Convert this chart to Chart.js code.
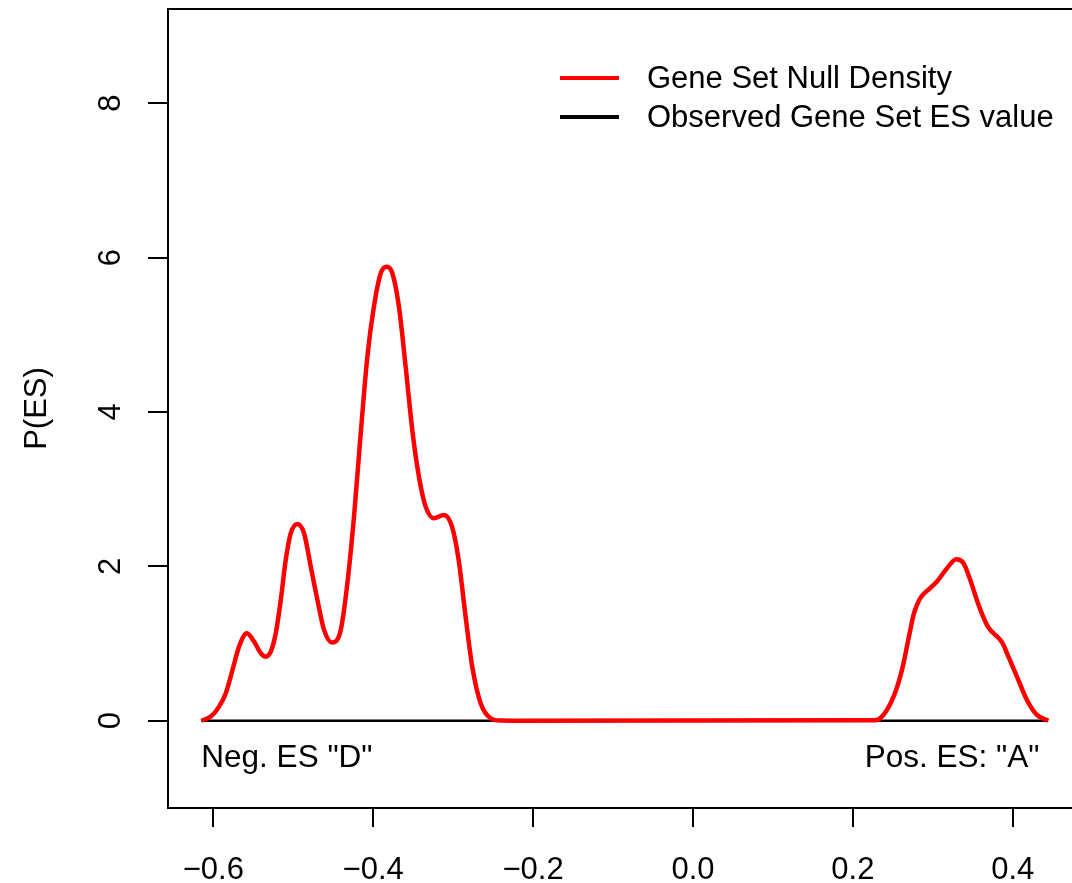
<!DOCTYPE html>
<html>
<head>
<meta charset="utf-8">
<script src="https://cdn.jsdelivr.net/npm/chart.js@4"></script>
<style>
  html, body { margin: 0; padding: 0; background: #fff; overflow: hidden; }
  #wrap { position: relative; width: 1090px; height: 883px; }
  .legend { position: absolute; left: 560px; top: 58px; font-family: "Liberation Sans", Arial, sans-serif; font-size: 31px; color: #000; }
  .legend .row { display: flex; align-items: center; height: 39px; }
  .legend .swatch { width: 59px; height: 4px; margin-right: 28px; }
</style>
</head>
<body>
<div id="wrap">
  <canvas id="esPlot"></canvas>
  <div class="legend">
    <div class="row"><div class="swatch" style="background:#ff0000"></div><span>Gene Set Null Density</span></div>
    <div class="row"><div class="swatch" style="background:#000000"></div><span>Observed Gene Set ES value</span></div>
  </div>
</div>
<script>
// density of the null ES distribution
const esGrid = [
  -0.615, -0.6031, -0.5928, -0.5844, -0.576, -0.5678, -0.5581, -0.549, -0.5406, -0.5344,
  -0.5281, -0.5219, -0.5156, -0.5094, -0.5031, -0.4948, -0.4865, -0.4781, -0.4698, -0.4615,
  -0.4514, -0.4406, -0.4323, -0.424, -0.4156, -0.4073, -0.3991, -0.3906, -0.3831, -0.376,
  -0.3678, -0.3594, -0.3511, -0.3428, -0.3344, -0.324, -0.3115, -0.3014, -0.2931, -0.2844,
  -0.2761, -0.2656, -0.2531, -0.2406, -0.2244,
  0.2256, 0.2344, 0.251, 0.2615, 0.2719, 0.276, 0.2802, 0.2844, 0.2885, 0.2928,
  0.3053, 0.3178, 0.3294, 0.3385, 0.3469, 0.3573, 0.3678, 0.3719, 0.376, 0.3844,
  0.3885, 0.3928, 0.4053, 0.4178, 0.4303, 0.4444
];
const nullDensity = [
  0, 0.053, 0.183, 0.356, 0.658, 0.96, 1.133, 1.025, 0.874, 0.83,
  0.895, 1.133, 1.565, 2.083, 2.429, 2.549, 2.429, 1.996, 1.565, 1.176,
  1.012, 1.176, 1.781, 2.644, 3.724, 4.716, 5.364, 5.797, 5.882, 5.797,
  5.364, 4.587, 3.767, 3.162, 2.773, 2.623, 2.666, 2.514, 2.083, 1.348,
  0.701, 0.227, 0.032, 0.001, 0,
  0.005, 0.032, 0.312, 0.658, 1.176, 1.37, 1.5, 1.587, 1.642, 1.681,
  1.802, 1.975, 2.092, 2.04, 1.824, 1.5, 1.241, 1.176, 1.133, 1.047,
  0.982, 0.874, 0.571, 0.269, 0.075, 0
];
const baselineX = [-0.615, 0.4444];
const baselineY = [0, 0];

const xTicks = [-0.6, -0.4, -0.2, 0.0, 0.2, 0.4];
const xTickLabels = ["\u22120.6", "\u22120.4", "\u22120.2", "0.0", "0.2", "0.4"];
const yTicks = [0, 2, 4, 6, 8];
const yTickLabels = ["0", "2", "4", "6", "8"];

const sideNotes = [
  { text: 'Neg. ES "D"', x: -0.615, y: -0.6, align: "left" },
  { text: 'Pos. ES: "A"', x: 0.4335, y: -0.6, align: "right" }
];

const FONT = "'Liberation Sans', Arial, sans-serif";

const framePlugin = {
  id: "frame",
  afterDatasetsDraw(chart) {
    const { ctx, chartArea: a, scales } = chart;
    ctx.save();
    ctx.font = "31.5px " + FONT;
    ctx.fillStyle = "#000";
    ctx.textBaseline = "alphabetic";
    sideNotes.forEach(n => {
      ctx.textAlign = n.align;
      ctx.fillText(n.text, scales.x.getPixelForValue(n.x), scales.y.getPixelForValue(n.y));
    });
    ctx.strokeStyle = "#000";
    ctx.lineWidth = 2;
    ctx.strokeRect(a.left, a.top, a.right - a.left, a.bottom - a.top);
    ctx.restore();
  }
};

new Chart(document.getElementById("esPlot"), {
  type: "line",
  data: {
    datasets: [
      {
        label: "Gene Set Null Density",
        data: esGrid.map((x, i) => ({ x, y: nullDensity[i] })),
        borderColor: "#ff0000",
        borderWidth: 4.5,
        pointRadius: 0,
        cubicInterpolationMode: "monotone",
        fill: false
      },
      {
        label: "Observed Gene Set ES value",
        data: baselineX.map((x, i) => ({ x, y: baselineY[i] })),
        borderColor: "#000000",
        borderWidth: 2.5,
        pointRadius: 0,
        fill: false
      }
    ]
  },
  options: {
    responsive: true,
    maintainAspectRatio: false,
    animation: false,
    layout: { padding: { top: 9, right: 8, left: 0, bottom: 0 } },
    plugins: { legend: { display: false }, tooltip: { enabled: false } },
    scales: {
      x: {
        type: "linear",
        min: -0.6567,
        max: 0.4867,
        afterBuildTicks: s => { s.ticks = xTicks.map(v => ({ value: v })); },
        afterFit: s => { s.height = 75; s.paddingLeft = 0; s.paddingRight = 0; },
        grid: { drawOnChartArea: false, drawTicks: true, tickLength: 19, color: "#000", lineWidth: 2 },
        border: { display: true, color: "#000", width: 2 },
        ticks: {
          autoSkip: false,
          maxRotation: 0,
          padding: 25,
          color: "#000",
          font: { family: FONT, size: 31 },
          callback: (v, i) => xTickLabels[i]
        }
      },
      y: {
        min: -1.131,
        max: 9.22,
        afterBuildTicks: s => { s.ticks = yTicks.map(v => ({ value: v })); },
        afterFit: s => { s.width = 168; s.paddingTop = 0; s.paddingBottom = 0; },
        grid: { drawOnChartArea: false, drawTicks: true, tickLength: 20, color: "#000", lineWidth: 2 },
        border: { display: true, color: "#000", width: 2 },
        ticks: {
          autoSkip: false,
          minRotation: 90,
          maxRotation: 90,
          crossAlign: "center",
          padding: 28,
          color: "#000",
          font: { family: FONT, size: 31 },
          callback: (v, i) => yTickLabels[i]
        },
        title: {
          display: true,
          text: "P(ES)",
          color: "#000",
          font: { family: FONT, size: 31 },
          padding: { top: 19, bottom: 0 }
        }
      }
    }
  },
  plugins: [framePlugin]
});
</script>
</body>
</html>
